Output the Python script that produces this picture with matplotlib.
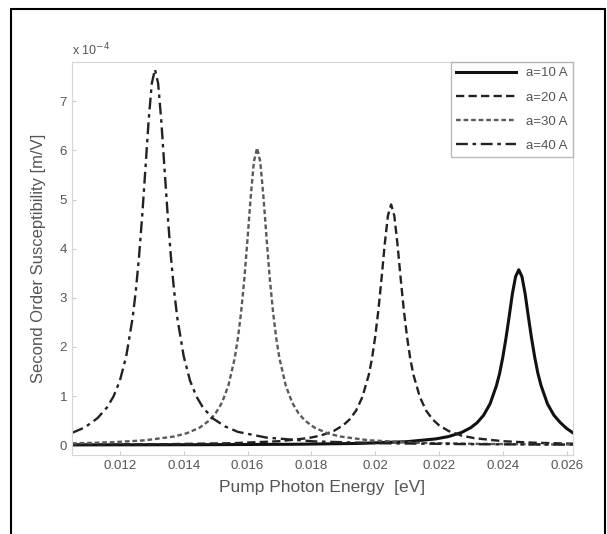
import matplotlib
matplotlib.use("Agg")
import matplotlib.pyplot as plt
from matplotlib.patches import Rectangle

plt.rcParams["font.family"] = ["Liberation Sans", "DejaVu Sans"]

# %%
# values, y in units of 1e-4 m/V
x_a10 = [0.0105, 0.0145, 0.0175, 0.0195, 0.0210, 0.0219, 0.0223, 0.0227, 0.0230, 0.0232, 0.0234,
         0.0236, 0.0238, 0.0239, 0.0240, 0.0241, 0.0242, 0.0243, 0.0244, 0.0245,
         0.0246, 0.0247, 0.0248, 0.0249, 0.0250, 0.0251, 0.0252, 0.0254, 0.0256, 0.0258, 0.0260, 0.0262]
y_a10 = [0.005, 0.009, 0.018, 0.035, 0.071, 0.127, 0.175, 0.256, 0.357, 0.46, 0.61,
         0.84, 1.21, 1.46, 1.79, 2.18, 2.62, 3.08, 3.43, 3.57,
         3.43, 3.08, 2.62, 2.18, 1.79, 1.46, 1.21, 0.84, 0.61, 0.46, 0.34, 0.25]

x_a20 = [0.0105, 0.0135, 0.0155, 0.0170, 0.0179, 0.0183, 0.0187, 0.0190, 0.0192, 0.0194, 0.0196,
         0.0198, 0.0199, 0.0200, 0.0201, 0.0202, 0.0203, 0.0204, 0.0205,
         0.0206, 0.0207, 0.0208, 0.0209, 0.0210, 0.0211, 0.0212, 0.0214, 0.0216, 0.0218, 0.0220,
         0.0223, 0.0227, 0.0231, 0.0240, 0.0250, 0.0262]
y_a20 = [0.010, 0.020, 0.039, 0.080, 0.143, 0.196, 0.288, 0.405, 0.524, 0.70, 0.98,
         1.43, 1.76, 2.20, 2.74, 3.39, 4.09, 4.67, 4.9,
         4.67, 4.09, 3.39, 2.74, 2.20, 1.76, 1.43, 0.98, 0.70, 0.524, 0.405,
         0.288, 0.196, 0.143, 0.080, 0.049, 0.030]

x_a30 = [0.0105, 0.0118, 0.0128, 0.0137, 0.0141, 0.0145, 0.0148, 0.0150, 0.0152, 0.0154, 0.0156,
         0.0157, 0.0158, 0.0159, 0.0160, 0.0161, 0.0162, 0.0163,
         0.0164, 0.0165, 0.0166, 0.0167, 0.0168, 0.0169, 0.0170, 0.0172, 0.0174, 0.0176, 0.0178,
         0.0181, 0.0185, 0.0189, 0.0198, 0.0213, 0.0233, 0.0262]
y_a30 = [0.036, 0.060, 0.099, 0.176, 0.243, 0.356, 0.50, 0.647, 0.865, 1.21, 1.77,
         2.18, 2.71, 3.38, 4.19, 5.05, 5.77, 6.05,
         5.77, 5.05, 4.19, 3.38, 2.71, 2.18, 1.77, 1.21, 0.865, 0.647, 0.50,
         0.356, 0.243, 0.176, 0.099, 0.048, 0.025, 0.012]

x_a40 = [0.0105, 0.0109, 0.0113, 0.0116, 0.0118, 0.0120, 0.0122, 0.0124, 0.0125, 0.0126, 0.0127,
         0.0128, 0.0129, 0.0130, 0.0131,
         0.0132, 0.0133, 0.0134, 0.0135, 0.0136, 0.0137, 0.0138, 0.0140, 0.0142, 0.0144, 0.0146,
         0.0149, 0.0153, 0.0157, 0.0166, 0.0181, 0.0201, 0.0231, 0.0262]
y_a40 = [0.25, 0.36, 0.55, 0.77, 0.99, 1.31, 1.81, 2.59, 3.14, 3.83, 4.67,
         5.62, 6.59, 7.36, 7.65,
         7.36, 6.59, 5.62, 4.67, 3.83, 3.14, 2.59, 1.81, 1.31, 0.99, 0.77,
         0.55, 0.38, 0.27, 0.153, 0.076, 0.039, 0.019, 0.011]

labels = ["a=10 A", "a=20 A", "a=30 A", "a=40 A"]
xticks = [0.012, 0.014, 0.016, 0.018, 0.02, 0.022, 0.024, 0.026]
xtick_labels = ["0.012", "0.014", "0.016", "0.018", "0.02", "0.022", "0.024", "0.026"]
yticks = [0, 1, 2, 3, 4, 5, 6, 7]

# %%
fig = plt.figure(figsize=(6.07, 5.34), dpi=100)
ax = fig.add_axes([0.1186, 0.148, 0.8254, 0.736])

ax.plot(x_a10, y_a10, color="#111111", lw=2.2, ls="-", label=labels[0])
ax.plot(x_a20, y_a20, color="#222222", lw=1.7, ls=(0, (3.5, 1.8)), label=labels[1])
ax.plot(x_a30, y_a30, color="#5a5a5a", lw=1.7, ls=(0, (2, 1.2)), label=labels[2])
ax.plot(x_a40, y_a40, color="#222222", lw=1.7, ls=(0, (5, 2, 1.5, 2)), label=labels[3])

ax.set_xlim(0.0105, 0.0262)
ax.set_ylim(-0.2, 7.8)
ax.set_xticks(xticks)
ax.set_xticklabels(xtick_labels)
ax.set_yticks(yticks)
ax.tick_params(direction="in", length=3, color="#cccccc", labelcolor="#555555", labelsize=9.5)
for sp in ax.spines.values():
    sp.set_color("#d6d6d6")

ax.set_xlabel("Pump Photon Energy  [eV]", fontsize=12.5, color="#555555", labelpad=6)
ax.set_ylabel("Second Order Susceptibility [m/V]", fontsize=12, color="#555555", labelpad=10)
ax.text(0.0, 1.01, r"x 10$^{-4}$", transform=ax.transAxes, fontsize=9, color="#555555",
        ha="left", va="bottom")

leg = ax.legend(loc="upper right", fontsize=9.5, handlelength=4.5, borderaxespad=0.0,
                frameon=True, fancybox=False, labelspacing=0.9)
leg.get_frame().set_edgecolor("#aaaaaa")
for t in leg.get_texts():
    t.set_color("#555555")

# outer picture frame
fig.patches.append(Rectangle((11 / 607, -0.05), 594 / 607, 1 - 9 / 534 + 0.05,
                             transform=fig.transFigure, fill=False, ec="black", lw=1.5))

fig.savefig("out.png", dpi=100)
